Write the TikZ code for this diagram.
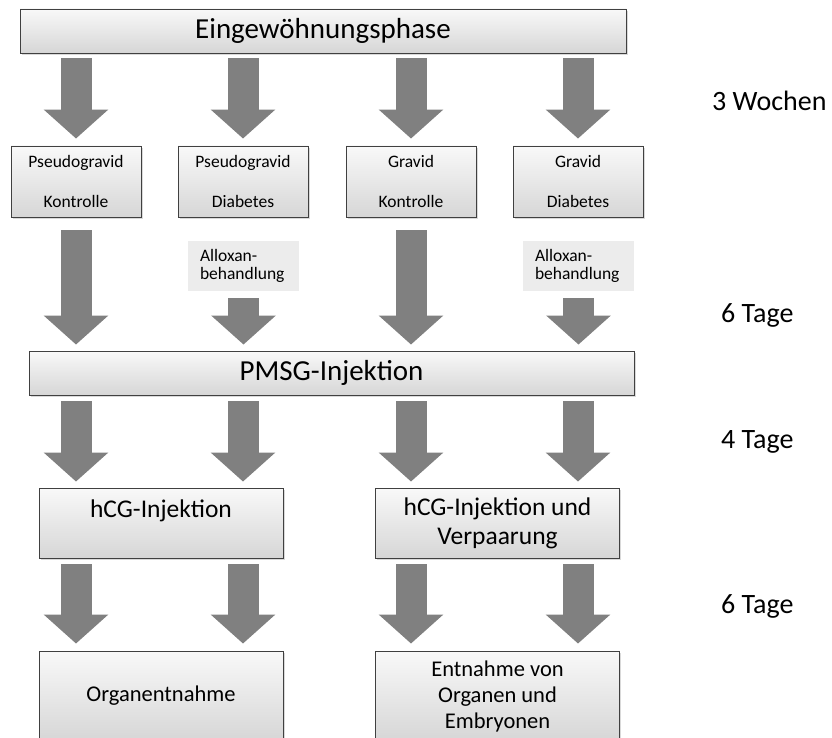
\documentclass[tikz,border=0pt]{standalone}
\usepackage{fontspec}
\setmainfont{Carlito}
\usetikzlibrary{arrows.meta,shadows}
\tikzset{
  phasebox/.style={draw=black!75, line width=0.9pt, top color=gray!5, bottom color=gray!32, inner sep=0pt, align=center,
    drop shadow={shadow xshift=1.5pt, shadow yshift=-2pt, opacity=0.3}},
  groupbox/.style={phasebox, minimum width=130pt, minimum height=71pt, font=\fontsize{17.5}{21}\selectfont},
  treatbox/.style={fill=gray!15, inner xsep=12pt, inner ysep=0pt, minimum height=50pt, text width=87pt,
    align=left, font=\fontsize{17.5}{18}\selectfont},
  blockarrow/.style={draw=gray, line width=31pt, -{Triangle[width=63pt,length=29pt]}},
  timelabel/.style={anchor=west, inner sep=0pt, font=\fontsize{28}{34}\selectfont}
}
\begin{document}
\begin{tikzpicture}[x=1pt,y=-1pt]
  \useasboundingbox (0,0) rectangle (832,738);
  \clip (0,0) rectangle (832,738);
  \coordinate (c1) at (76,0);
  \coordinate (c2) at (243,0);
  \coordinate (c3) at (411,0);
  \coordinate (c4) at (578,0);

  \node[phasebox, minimum width=606pt, minimum height=44pt, font=\fontsize{29}{35}\selectfont] (eing) at (323,31) {Eingewöhnungsphase};
  \node[groupbox] (pk) at (76,181.5) {Pseudogravid\\[19pt]Kontrolle};
  \node[groupbox] (pd) at (243,181.5) {Pseudogravid\\[19pt]Diabetes};
  \node[groupbox] (gk) at (411,181.5) {Gravid\\[19pt]Kontrolle};
  \node[groupbox] (gd) at (578,181.5) {Gravid\\[19pt]Diabetes};
  \node[treatbox] (apd) at (243.5,266) {Alloxan-\\behandlung};
  \node[treatbox] (agd) at (578.5,266) {Alloxan-\\behandlung};
  \node[phasebox, minimum width=605pt, minimum height=44pt, font=\fontsize{29}{35}\selectfont] (pmsg) at (331.5,373) {PMSG-Injektion};
  \node[phasebox, minimum width=244pt, minimum height=70pt, font=\fontsize{25.5}{29}\selectfont] (hcgp) at (161,523) {hCG-Injektion\\\mbox{}};
  \node[phasebox, minimum width=244pt, minimum height=70pt, font=\fontsize{25.5}{29}\selectfont] (hcgg) at (497.5,523) {hCG-Injektion und\\Verpaarung};
  \node[phasebox, minimum width=244pt, minimum height=90pt, font=\fontsize{22.5}{26}\selectfont] (orgp) at (161,696) {Organentnahme};
  \node[phasebox, minimum width=244pt, minimum height=90pt, font=\fontsize{22.5}{26}\selectfont] (orgg) at (497.5,696) {Entnahme von\\Organen und\\Embryonen};

  \node[timelabel] (t1) at (712,101) {3 Wochen};
  \node[timelabel] (t2) at (721,315) {6 Tage};
  \node[timelabel] (t3) at (721,442) {4 Tage};
  \node[timelabel] (t4) at (721,606) {6 Tage};

  \foreach \b in {pk,pd,gk,gd}
    \draw[blockarrow] ([yshift=-5pt]eing.south -| \b) -- ([yshift=7pt]\b.north);
  \foreach \b in {pk,gk}
    \draw[blockarrow] ([yshift=-13pt]\b.south) -- ([yshift=6pt]pmsg.north -| \b);
  \foreach \b in {apd,agd}
    \draw[blockarrow] ([yshift=-7pt]\b.south) -- ([yshift=6pt]pmsg.north -| \b);
  \foreach \c/\b in {c1/hcgp,c2/hcgp,c3/hcgg,c4/hcgg}
    \draw[blockarrow] ([yshift=-6pt]pmsg.south -| \c) -- ([yshift=6pt]\b.north -| \c);
  \foreach \c/\b/\e in {c1/hcgp/orgp,c2/hcgp/orgp,c3/hcgg/orgg,c4/hcgg/orgg}
    \draw[blockarrow] ([yshift=-6pt]\b.south -| \c) -- ([yshift=7pt]\e.north -| \c);
\end{tikzpicture}
\end{document}
